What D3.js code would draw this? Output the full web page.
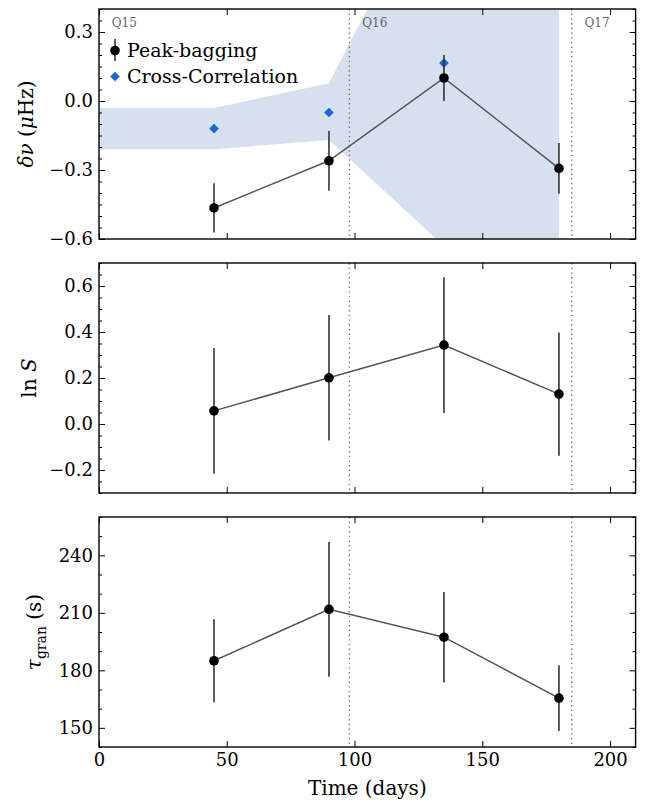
<!DOCTYPE html>
<html><head><meta charset="utf-8">
<script src="https://cdn.jsdelivr.net/npm/d3@7"></script>
<style>
body{margin:0;background:#fff;}
text{font-family:"DejaVu Serif",serif;}
</style></head>
<body><svg id="c" width="662" height="808"></svg>
<script>
// ---- data ----
const days = [45, 90, 135, 180];
const dnu = [-0.465, -0.26, 0.10, -0.293];
const dnuErr = [0.107, 0.13, 0.10, 0.11];
const ccDays = [45, 90, 135];
const ccDnu = [-0.12, -0.05, 0.165];
const bandDays = [0, 45, 90, 135, 180];
const bandLow = [-0.21, -0.21, -0.17, -0.63, -1.2];
const bandHigh = [-0.03, -0.03, 0.077, 1.05, 1.5];
const lnS = [0.057, 0.201, 0.343, 0.130];
const lnSErr = [0.273, 0.273, 0.295, 0.268];
const tau = [185.0, 211.8, 197.3, 165.5];
const tauErr = [21.7, 35.2, 23.6, 17.2];
const quarterLines = [98, 185];
const quarterLabels = ["Q15", "Q16", "Q17"];
const quarterLabelDays = [5, 103, 190];
const xTicks = [0, 50, 100, 150, 200];
const dnuTicks = [-0.6, -0.3, 0.0, 0.3];
const lnSTicks = [-0.2, 0.0, 0.2, 0.4, 0.6];
const tauTicks = [150, 180, 210, 240];

const svg = d3.select("#c");
const L = 99, R = 635.6;
const x = d3.scaleLinear().domain([0, 210]).range([L, R]);
const fmtMinus = s => s.replace("-", "\u2212");

const panels = [
  {top: 9, bottom: 239, domain: [-0.6, 0.4], ticks: dnuTicks, minorStep: 0.05, fmt: d => fmtMinus(d3.format(".1f")(d)), vals: dnu, errs: dnuErr},
  {top: 263, bottom: 493, domain: [-0.3, 0.7], ticks: lnSTicks, minorStep: 0.05, fmt: d => fmtMinus(d3.format(".1f")(d)), vals: lnS, errs: lnSErr},
  {top: 517, bottom: 747, domain: [140, 260], ticks: tauTicks, minorStep: 10, fmt: d => d3.format("d")(d), vals: tau, errs: tauErr}
];

panels.forEach((p, i) => {
  const y = d3.scaleLinear().domain(p.domain).range([p.bottom, p.top]);
  p.y = y;
  const g = svg.append("g");
  const clipId = "clip" + i;
  svg.append("clipPath").attr("id", clipId).append("rect")
    .attr("x", L).attr("y", p.top).attr("width", R - L).attr("height", p.bottom - p.top);
  const plot = g.append("g").attr("clip-path", `url(#${clipId})`);

  if (i === 0) {
    const area = d3.area().x((d, k) => x(bandDays[k])).y0((d, k) => y(bandLow[k])).y1((d, k) => y(bandHigh[k]));
    plot.append("path").datum(bandDays).attr("d", area).attr("fill", "#d6e0ef");
  }
  quarterLines.forEach(q => {
    plot.append("line").attr("x1", x(q)).attr("x2", x(q)).attr("y1", p.top).attr("y2", p.bottom)
      .attr("stroke", "#777").attr("stroke-width", 1.4).attr("stroke-dasharray", "1.4,3.3");
  });
  if (i === 0) {
    quarterLabels.forEach((t, k) => {
      g.append("text").attr("x", x(quarterLabelDays[k])).attr("y", 27).attr("font-size", 12)
        .attr("fill", "#666").text(t);
    });
    // cross-correlation diamonds
    const sym = d3.symbol().type(d3.symbolDiamond2).size(60);
    ccDays.forEach((d, k) => {
      plot.append("path").attr("d", sym()).attr("transform", `translate(${x(d)},${y(ccDnu[k])})`)
        .attr("fill", "#1668d2");
    });
  }
  const line = d3.line().x((d, k) => x(days[k])).y((d, k) => y(p.vals[k]));
  plot.append("path").datum(days).attr("d", line).attr("fill", "none").attr("stroke", "#555").attr("stroke-width", 1.5);
  days.forEach((d, k) => {
    plot.append("line").attr("x1", x(d)).attr("x2", x(d))
      .attr("y1", y(p.vals[k] - p.errs[k])).attr("y2", y(p.vals[k] + p.errs[k]))
      .attr("stroke", "#333").attr("stroke-width", 1.6);
    plot.append("circle").attr("cx", x(d)).attr("cy", y(p.vals[k])).attr("r", 4.8).attr("fill", "#000");
  });

  // axes
  const minor = d3.range(p.domain[0], p.domain[1] + 1e-9, p.minorStep).filter(v => !p.ticks.some(t => Math.abs(t - v) < 1e-9));
  const axL = g.append("g").attr("transform", `translate(${L},0)`)
    .call(d3.axisLeft(y).tickValues(p.ticks).tickFormat(p.fmt).tickSize(-6).tickPadding(6));
  const axLm = g.append("g").attr("transform", `translate(${L},0)`)
    .call(d3.axisLeft(y).tickValues(minor).tickFormat("").tickSize(-3));
  const axR = g.append("g").attr("transform", `translate(${R},0)`)
    .call(d3.axisRight(y).tickValues(p.ticks).tickFormat("").tickSize(-6));
  const axRm = g.append("g").attr("transform", `translate(${R},0)`)
    .call(d3.axisRight(y).tickValues(minor).tickFormat("").tickSize(-3));
  const axB = g.append("g").attr("transform", `translate(0,${p.bottom})`)
    .call(d3.axisBottom(x).tickValues(xTicks).tickFormat(i === 2 ? d3.format("d") : "").tickSize(-6).tickPadding(6));
  const axT = g.append("g").attr("transform", `translate(0,${p.top})`)
    .call(d3.axisTop(x).tickValues(xTicks).tickFormat("").tickSize(-6));
  [axL, axLm, axR, axRm, axB, axT].forEach(a => {
    a.select(".domain").remove();
    a.selectAll("line").attr("stroke", "#000").attr("stroke-width", 1);
    a.selectAll("text").attr("font-family", "DejaVu Serif").attr("font-size", 18).attr("fill", "#000");
  });
  g.append("rect").attr("x", L).attr("y", p.top).attr("width", R - L).attr("height", p.bottom - p.top)
    .attr("fill", "none").attr("stroke", "#000").attr("stroke-width", 1.4);
});

// y labels
const yl1 = svg.append("text").attr("transform", `translate(33,${(9 + 239) / 2}) rotate(-90)`)
  .attr("text-anchor", "middle").attr("font-size", 20);
yl1.append("tspan").attr("font-style", "italic").text("δν");
yl1.append("tspan").text(" (");
yl1.append("tspan").attr("font-style", "italic").text("μ");
yl1.append("tspan").text("Hz)");

const yl2 = svg.append("text").attr("transform", `translate(36,${(263 + 493) / 2}) rotate(-90)`)
  .attr("text-anchor", "middle").attr("font-size", 20);
yl2.append("tspan").text("ln ");
yl2.append("tspan").attr("font-style", "italic").text("S");

const yl3 = svg.append("text").attr("transform", `translate(41,${(517 + 747) / 2}) rotate(-90)`)
  .attr("text-anchor", "middle").attr("font-size", 20);
yl3.append("tspan").attr("font-style", "italic").text("τ");
yl3.append("tspan").attr("font-size", 14).attr("dy", 5).text("gran");
yl3.append("tspan").attr("dy", -5).text(" (s)");

svg.append("text").attr("x", (L + R) / 2).attr("y", 795).attr("text-anchor", "middle")
  .attr("font-size", 20).text("Time (days)");

// legend
const lg = svg.append("g");
lg.append("line").attr("x1", 115).attr("x2", 115).attr("y1", 39).attr("y2", 61).attr("stroke", "#333").attr("stroke-width", 1.6);
lg.append("circle").attr("cx", 115).attr("cy", 50.5).attr("r", 4.8).attr("fill", "#000");
lg.append("text").attr("x", 127).attr("y", 57).attr("font-size", 19).text("Peak-bagging");
lg.append("path").attr("d", d3.symbol().type(d3.symbolDiamond2).size(60)()).attr("transform", "translate(115,76.5)").attr("fill", "#1668d2");
lg.append("text").attr("x", 127).attr("y", 83).attr("font-size", 19).text("Cross-Correlation");
</script></body></html>
